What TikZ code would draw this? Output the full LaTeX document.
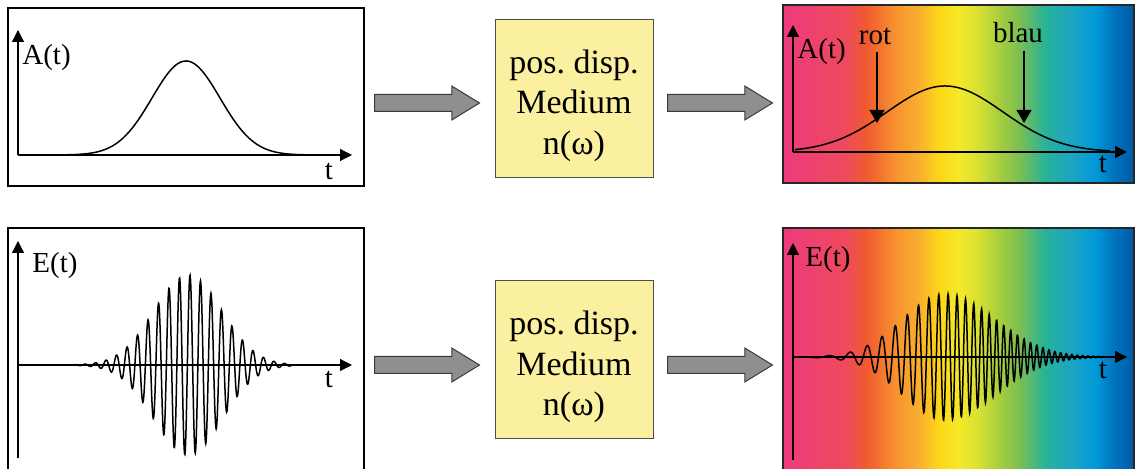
\documentclass[tikz,border=0pt]{standalone}
\usepackage{fontspec}
\setmainfont{Liberation Serif}
\usetikzlibrary{arrows.meta}
\usetikzlibrary{shapes.arrows}

\definecolor{mediumfill}{HTML}{FAF0A0}
\definecolor{arrowfill}{HTML}{8F8F8F}
\definecolor{arrowline}{HTML}{3A3A3A}
\definecolor{sp0}{HTML}{EE3A7E}
\definecolor{sp1}{HTML}{EE4A5C}
\definecolor{sp2}{HTML}{F05A30}
\definecolor{sp3}{HTML}{F7932E}
\definecolor{sp4}{HTML}{FAAF2F}
\definecolor{sp5}{HTML}{FDD717}
\definecolor{sp6}{HTML}{F5E92A}
\definecolor{sp7}{HTML}{D7E033}
\definecolor{sp8}{HTML}{A8CF3E}
\definecolor{sp9}{HTML}{7DBF50}
\definecolor{sp10}{HTML}{26B29A}
\definecolor{sp11}{HTML}{1CA5C2}
\definecolor{sp12}{HTML}{0099D7}
\definecolor{sp13}{HTML}{0079C0}
\definecolor{sp14}{HTML}{005AA7}
\pgfdeclarehorizontalshading{spectrum}{100bp}{color(0bp)=(sp0); color(25bp)=(sp0);
  color(34bp)=(sp1); color(36.9bp)=(sp2); color(41.1bp)=(sp3); color(44.4bp)=(sp4);
  color(47.2bp)=(sp5); color(50.1bp)=(sp6); color(52.9bp)=(sp7); color(55.7bp)=(sp8);
  color(58.6bp)=(sp9); color(62.4bp)=(sp10); color(66.1bp)=(sp11); color(69.5bp)=(sp12);
  color(71.7bp)=(sp13); color(75bp)=(sp14); color(100bp)=(sp14)}

\tikzset{
  panel/.style={draw=black, line width=0.6pt},
  specpanel/.style={draw=black!85, line width=1pt, shading=spectrum},
  medbox/.style={draw=black!70, line width=0.5pt, fill=mediumfill, minimum size=79pt, inner sep=0pt},
  medtext/.style={align=center, font=\fontsize{17}{20.25}\selectfont, inner sep=0pt},
  blockarrow/.style={single arrow, draw=arrowline, fill=arrowfill, line width=0.5pt,
    minimum height=52.5pt, inner xsep=0pt, inner ysep=4pt, single arrow head extend=4.25pt,
    single arrow tip angle=63, anchor=tail},
  axis/.style={line width=0.6pt, -{Triangle[length=6pt,width=6pt]}},
  curve/.style={line width=0.75pt},
  lbl/.style={font=\fontsize{14.5}{17}\selectfont, inner sep=0pt},
  marker/.style={line width=0.6pt, -{Triangle[length=6.5pt,width=7.5pt]}}
}

\begin{document}
\begin{tikzpicture}[x=0.5pt, y=-0.5pt]
    \useasboundingbox (0,0) rectangle (1136,469);
    \fill[white] (0,0) rectangle (1136,469);

    % input pulse: envelope
    \draw[panel] (8,8) rectangle (364,186);
    \coordinate (oA) at (18,155);
    \draw[axis] (oA) -- (18,30);
    \draw[axis] (oA) -- (352,155);
    \draw[curve] plot[domain=33:338, samples=160, smooth] (\x, {155-94*exp(-0.5*((\x-186)/34)*((\x-186)/34))});
    \node[lbl, anchor=base west] (labAin) at (22,65) {A(t)};
    \node[lbl, anchor=base] (labTAin) at (329,180) {t};

    % input pulse: field
    \draw[panel] (8,228) rectangle (364,480);
    \coordinate (oE) at (18,365);
    \draw[axis] (oE |- 0,458) -- (18,241);
    \draw[axis] (oE) -- (352,365);
    \draw[curve] plot[domain=50:293, samples=700] (\x, {365-90*exp(-0.5*((\x-188)/34)*((\x-188)/34))*cos((\x-190)*34.2857)});
    \node[lbl, anchor=base west] (labEin) at (32,273) {E(t)};
    \node[lbl, anchor=base] (labTEin) at (329,388) {t};

    % medium
    \node[medbox] (medA) at (574,98.5) {};
    \node[medtext] (medAtxt) at ([yshift=-3.5pt]medA.center) {pos.\ disp.\\Medium\\n(ω)};
    \node[medbox] (medE) at (574,360) {};
    \node[medtext] (medEtxt) at ([yshift=-3.5pt]medE.center) {pos.\ disp.\\Medium\\n(ω)};

    % block arrows
    \node[blockarrow] (arrAin) at (374,103) {};
    \node[blockarrow] (arrAout) at (667,103) {};
    \node[blockarrow] (arrEin) at (374,365) {};
    \node[blockarrow] (arrEout) at (667,365) {};

    % output pulse: envelope
    \shade[specpanel] (783,5) rectangle (1134,183);
    \coordinate (oAo) at (793,152);
    \draw[axis] (oAo) -- (793,25);
    \draw[axis] (oAo) -- (1127,152);
    \draw[curve] plot[domain=795:1110, samples=160, smooth] (\x, {152-66*exp(-0.5*((\x-945)/58)*((\x-945)/58))});
    \node[lbl, anchor=base west] (labAout) at (797,59) {A(t)};
    \node[lbl, anchor=base] (labTAout) at (1103,173) {t};
    \node[lbl, anchor=base] (labRot) at (875,45) {rot};
    \node[lbl, anchor=base] (labBlau) at (1018,43) {blau};
    \coordinate (rotTip) at (877,123);
    \coordinate (blauTip) at (1024,123);
    \draw[marker] ([yshift=-3pt]labRot.south -| rotTip) -- (rotTip);
    \draw[marker] ([yshift=-3.5pt]labBlau.south -| blauTip) -- (blauTip);

    % output pulse: chirped field
    \shade[specpanel] (783,228) rectangle (1134,480);
    \coordinate (oEo) at (793,357);
    \draw[axis] (oEo |- 0,460) -- (793,243);
    \draw[axis] (oEo) -- (1127,357);
    \draw[curve] plot[domain=797:1105, samples=900] (\x, {357-63*exp(-0.5*((\x-945)/((\x<945)?42:50))*((\x-945)/((\x<945)?42:50)))*cos(360*(0.108*(\x-945)+(0.01697*(\x-945))*(0.01697*(\x-945)))+237.6)});
    \node[lbl, anchor=base west] (labEout) at (805,267) {E(t)};
    \node[lbl, anchor=base] (labTEout) at (1103,379) {t};
\end{tikzpicture}
\end{document}
